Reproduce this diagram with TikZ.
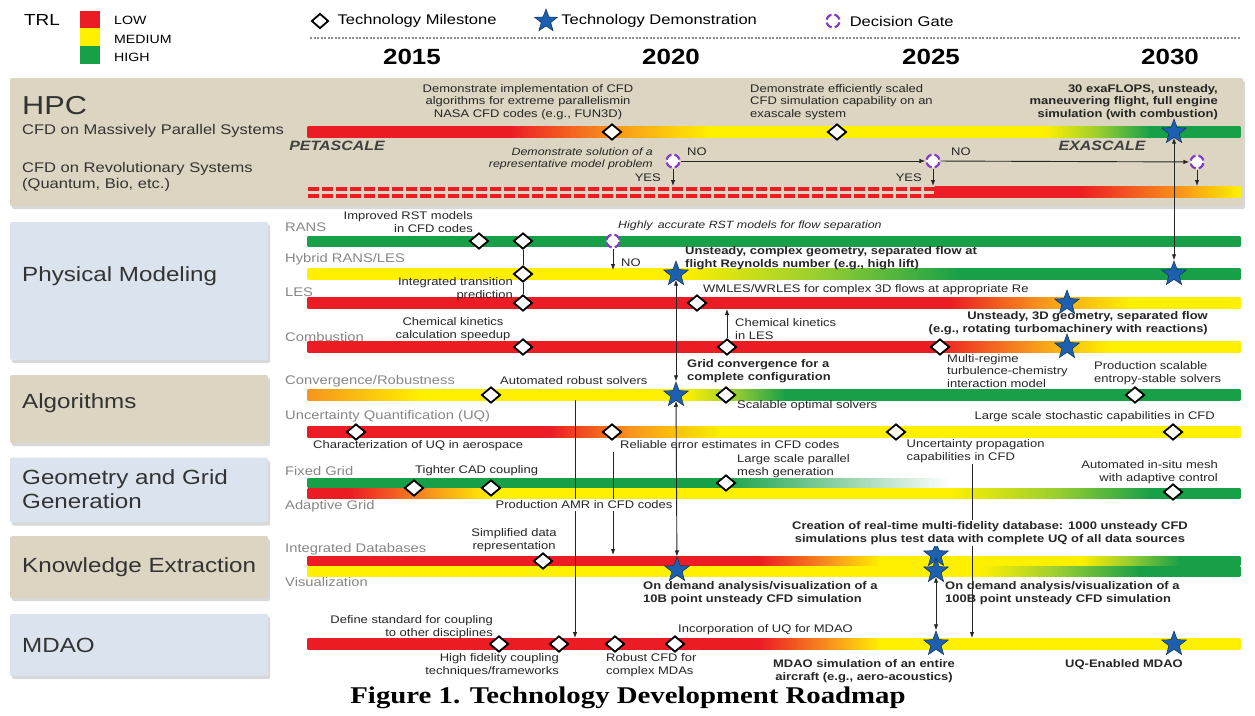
\documentclass[tikz,border=0pt]{standalone}
\usepackage{fontspec}
\setmainfont{Liberation Sans}[FakeStretch=1.18]
\newfontfamily\capfont{Liberation Serif}[FakeStretch=1.2]
\usetikzlibrary{positioning,shapes.geometric,arrows.meta,shadows}

\definecolor{trlred}{RGB}{236,28,36}
\definecolor{trlorange}{RGB}{247,148,29}
\definecolor{trlyellow}{RGB}{255,240,0}
\definecolor{trllime}{RGB}{150,205,50}
\definecolor{trlgreen}{RGB}{24,160,72}
\definecolor{paneltan}{RGB}{219,213,193}
\definecolor{panelblue}{RGB}{219,227,238}
\definecolor{demoblue}{RGB}{30,96,176}
\definecolor{gatepurple}{RGB}{130,60,200}
\definecolor{rowgray}{RGB}{135,135,135}

% a TRL bar: centre y, half thickness, then x0/x1/colour0/colour1 pieces
\newcommand{\trlbar}[3]{%
  \foreach \xa/\xb/\ca/\cb in {#3}{%
    \shade[left color=\ca, right color=\cb] (\xa-0.4,#1-#2) rectangle (\xb+0.4,#1+#2);}}

\begin{document}
\begin{tikzpicture}[x=1pt, y=-1pt,
  milestone/.style={diamond, draw=black, fill=white, line width=1.8pt, minimum width=19pt, minimum height=16pt, inner sep=0pt},
  demo/.style={star, star points=5, star point ratio=2.4, fill=demoblue, draw=demoblue!50!black, line width=0.5pt, minimum size=26pt, inner sep=0pt},
  gate/.style={circle, fill=white, draw=gatepurple, line width=2.2pt, minimum size=13pt, inner sep=0pt, dash pattern=on 7.2pt off 3pt, dash phase=8.7pt},
  note/.style={font=\fontsize{11}{12.5}\selectfont, inner sep=0pt, text=black!85},
  bnote/.style={note, font=\fontsize{11}{12.5}\selectfont\bfseries},
  inote/.style={note, font=\fontsize{10.5}{12}\selectfont\itshape},
  rowlbl/.style={font=\fontsize{12.5}{14}\selectfont, text=rowgray, anchor=west, inner sep=0pt},
  catbox/.style={rounded corners=2pt, minimum width=258pt, drop shadow={shadow xshift=2pt, shadow yshift=-3pt, fill=black!30}},
  cattext/.style={font=\fontsize{20.5}{24}\selectfont, anchor=west, align=left, inner sep=0pt, text=black!80},
  keytxt/.style={font=\fontsize{14}{16}\selectfont, inner sep=0pt, anchor=west},
  year/.style={font=\fontsize{22}{24}\selectfont\bfseries, inner sep=0pt},
  link/.style={-{Latex[length=6pt,width=4.5pt]}, line width=0.9pt, draw=black!85},
  twoway/.style={{Latex[length=6pt,width=4.5pt]}-{Latex[length=6pt,width=4.5pt]}, line width=0.9pt, draw=black!85},
  knock/.style={fill=white, inner sep=1.5pt}]

\useasboundingbox[fill=white] (0,0) rectangle (1255,715);

% legend and time axis
\node[font=\fontsize{16}{18}\selectfont, inner sep=0pt] (trl) at (42,20) {TRL};
\fill[trlred] (80,11) rectangle (100,28);
\fill[trlyellow] (80,28) rectangle (100,46);
\fill[trlgreen] (80,46) rectangle (100,64);
\node[keytxt, font=\fontsize{12}{14}\selectfont] (low) at (114,20) {LOW};
\node[keytxt, font=\fontsize{12}{14}\selectfont] (medium) at (114,39) {MEDIUM};
\node[keytxt, font=\fontsize{12}{14}\selectfont] (high) at (114,57) {HIGH};
\node[milestone, minimum width=17pt, minimum height=15pt] (keym) at (320,21) {};
\node[keytxt, right=8pt of keym] (keymtxt) {Technology Milestone};
\node[demo, minimum size=24pt] (keyd) at (546,21) {};
\node[keytxt, right=8pt of keyd] (keydtxt) {Technology Demonstration};
\node[gate] (keyg) at (833,21) {};
\node[keytxt, right=9pt of keyg] (keygtxt) {Decision Gate};
\draw[black!45, line width=1.3pt, dash pattern=on 2pt off 1.5pt] (310,38) -- (1240,38);
\foreach \yr/\xx in {2015/412, 2020/671, 2025/931, 2030/1170}
  \node[year] (y\yr) at (\xx,57) {\yr};

% HPC panel
\node[catbox, fill=paneltan, minimum width=1233pt, minimum height=128pt] (hpcpanel) at (626.5,142) {};
\node[font=\fontsize{26}{30}\selectfont, anchor=west, inner sep=0pt, text=black!80] (hpc) at (22,106) {HPC};
\node[cattext, font=\fontsize{14}{16}\selectfont] (mps) at (22,131) {CFD on Massively Parallel Systems};
\node[cattext, font=\fontsize{14}{16}\selectfont] (rev) at (22,177) {CFD on Revolutionary Systems\\(Quantum, Bio, etc.)};

% category boxes
\node[catbox, fill=panelblue, minimum height=138pt] (pmbox) at (139,291) {};
\node[cattext] (pmtxt) at (22,276) {Physical Modeling};
\node[catbox, fill=paneltan, minimum height=68pt] (albox) at (139,409) {};
\node[cattext] (altxt) at (22,403) {Algorithms};
\node[catbox, fill=panelblue, minimum height=65pt] (ggbox) at (139,490) {};
\node[cattext] (ggtxt) at (22,489) {Geometry and Grid\\Generation};
\node[catbox, fill=paneltan, minimum height=62pt] (kebox) at (139,567) {};
\node[cattext] (ketxt) at (22,567) {Knowledge Extraction};
\node[catbox, fill=panelblue, minimum height=62pt] (mdbox) at (139,645) {};
\node[cattext] (mdtxt) at (22,645) {MDAO};

% row names
\node[rowlbl] (rans) at (285,227) {RANS};
\node[rowlbl] (hyb) at (285,259) {Hybrid RANS/LES};
\node[rowlbl] (les) at (285,292) {LES};
\node[rowlbl] (comb) at (285,337) {Combustion};
\node[rowlbl] (conv) at (285,381) {Convergence/Robustness};
\node[rowlbl] (uq) at (285,416) {Uncertainty Quantification (UQ)};
\node[rowlbl] (fixg) at (285,471) {Fixed Grid};
\node[rowlbl] (adag) at (285,506) {Adaptive Grid};
\node[rowlbl] (idb) at (285,549) {Integrated Databases};
\node[rowlbl] (vis) at (285,582) {Visualization};

% bars
\trlbar{132}{5.5}{308/510/trlred/trlred, 510/612/trlred/trlorange, 612/710/trlorange/trlyellow, 710/1045/trlyellow/trlyellow, 1045/1100/trlyellow/trllime, 1100/1150/trllime/trlgreen, 1150/1240/trlgreen/trlgreen}
\draw[trlred, line width=4pt, dash pattern=on 11pt off 3pt] (308,188.5) -- (935,188.5);
\draw[trlred, line width=4pt, dash pattern=on 11pt off 3pt] (308,195.5) -- (935,195.5);
\trlbar{192}{5.5}{935/1080/trlred/trlred, 1080/1180/trlred/trlorange, 1180/1240/trlorange/trlyellow}
\trlbar{241}{5}{308/1240/trlgreen/trlgreen}
\trlbar{274}{5.5}{308/680/trlyellow/trlyellow, 680/820/trlyellow/trllime, 820/960/trllime/trlgreen, 960/1240/trlgreen/trlgreen}
\trlbar{303}{5.5}{308/950/trlred/trlred, 950/1040/trlred/trlorange, 1040/1130/trlorange/trlyellow, 1130/1240/trlyellow/trlyellow}
\trlbar{347}{5.5}{308/935/trlred/trlred, 935/1030/trlred/trlorange, 1030/1110/trlorange/trlyellow, 1110/1240/trlyellow/trlyellow}
\trlbar{395}{5.5}{308/420/trlorange/trlyellow, 420/685/trlyellow/trlyellow, 685/735/trlyellow/trllime, 735/785/trllime/trlgreen, 785/1240/trlgreen/trlgreen}
\trlbar{432}{5.5}{308/550/trlred/trlred, 550/630/trlred/trlorange, 630/720/trlorange/trlyellow, 720/1240/trlyellow/trlyellow}
\trlbar{493}{5}{308/350/trlred/trlred, 350/430/trlred/trlorange, 430/490/trlorange/trlyellow, 490/950/trlyellow/trlyellow, 950/1060/trlyellow/trllime, 1060/1150/trllime/trlgreen, 1150/1240/trlgreen/trlgreen}
\trlbar{483}{4.5}{308/720/trlgreen/trlgreen, 720/950/trlgreen/white}
\trlbar{571}{5}{308/980/trlyellow/trlyellow, 980/1060/trlyellow/trllime, 1060/1140/trllime/trlgreen, 1140/1240/trlgreen/trlgreen}
\trlbar{561}{4.5}{308/760/trlred/trlred, 760/830/trlred/trlorange, 830/880/trlorange/trlyellow, 880/1080/trlyellow/trlyellow, 1080/1130/trlyellow/trllime, 1130/1180/trllime/trlgreen, 1180/1240/trlgreen/trlgreen}
\trlbar{644}{5.5}{308/760/trlred/trlred, 760/830/trlred/trlorange, 830/880/trlorange/trlyellow, 880/1240/trlyellow/trlyellow}

% HPC markers
\node[milestone] (m1) at (612,132) {};
\node[milestone] (m2) at (837,132) {};
\node[demo] (d1) at (1174,132) {};
\node[gate] (g1) at (673,161) {};
\node[gate] (g2) at (933,161) {};
\node[gate] (g3) at (1197,162) {};
\coordinate (g1down) at (673,186);
\coordinate (g2down) at (933,186);
\coordinate (g3down) at (1197,186);

% physical modeling markers
\node[milestone] (r1) at (479,241) {};
\node[milestone] (r2) at (523,241) {};
\node[gate] (rg) at (613,241) {};
\node[milestone] (h1) at (523,274) {};
\node[demo] (hs) at (676,274) {};
\node[demo] (h2) at (1174,274) {};
\node[milestone] (l1) at (523,303) {};
\node[milestone] (l2) at (697,303) {};
\node[demo] (ls) at (1067,303) {};
\node[milestone] (c1) at (523,347) {};
\node[milestone] (c2) at (727,347) {};
\node[milestone] (c3) at (940,347) {};
\node[demo] (cs) at (1067,347) {};
\coordinate (rgdown) at (613,270);
\coordinate (lesin) at (727,309);

% algorithms markers
\node[milestone] (a1) at (491,395) {};
\node[demo] (gs) at (676,395) {};
\node[milestone] (a2) at (726,395) {};
\node[milestone] (a3) at (1135,395) {};
\node[milestone] (u1) at (356,432) {};
\node[milestone] (u2) at (612,432) {};
\node[milestone] (u3) at (896,432) {};
\node[milestone] (u4) at (1173,432) {};

% geometry markers
\node[milestone] (q1) at (414,488) {};
\node[milestone] (q2) at (491,488) {};
\node[milestone] (q3) at (726,483) {};
\node[milestone] (q4) at (1173,492) {};

% knowledge markers
\node[milestone] (k1) at (543,561) {};
\node[demo] (ks1) at (677,570) {};
\node[demo] (ks2) at (936,555) {};
\node[demo] (ks3) at (936,571) {};

% MDAO markers
\node[milestone] (o1) at (499,644) {};
\node[milestone] (o2) at (559,644) {};
\node[milestone] (o3) at (615,644) {};
\node[milestone] (o4) at (675,644) {};
\node[demo] (ms1) at (936,644) {};
\node[demo] (ms2) at (1174,644) {};

% free ends of the long links
\coordinate (convout) at (575,400);
\coordinate (mdaoin1) at (575,638);
\coordinate (errout) at (613,452);
\coordinate (idbin) at (613,555);
\coordinate (uqout) at (972,438);
\coordinate (mdaoin2) at (972,638);

% links
\draw[link] (g1) -- (g2);
\draw[link] (g2) -- (g3);
\draw[link] (g1) -- (g1down);
\draw[link] (g2) -- (g2down);
\draw[link] (g3) -- (g3down);
\draw[twoway] (d1) -- (h2);
\draw[link] (rg) -- (rgdown);
\draw[line width=0.9pt, black!85] (r2) -- (h1) -- (l1);
\draw[link] (c2) -- (lesin);
\draw[twoway] (hs) -- (gs);
\draw[twoway] (gs) -- (ks1);
\draw[link] (convout) -- (mdaoin1);
\draw[link] (errout) -- (idbin);
\draw[link] (uqout) -- (mdaoin2);
\draw[twoway] (ks3) -- (ms1);

% HPC texts
\node[note, align=center] (m1txt) at (528,102) {Demonstrate implementation of CFD\\algorithms for extreme parallelismin\\NASA CFD codes (e.g., FUN3D)};
\node[note, align=left, anchor=west] (m2txt) at (750,102) {Demonstrate efficiently scaled\\CFD simulation capability on an\\exascale system};
\node[bnote, align=right, anchor=east] (d1txt) at (1218,102) {30 exaFLOPS, unsteady,\\maneuvering flight, full engine\\simulation (with combustion)};
\node[font=\fontsize{13.5}{16}\selectfont\bfseries\itshape, text=black!75, inner sep=0pt] (peta) at (337,146) {PETASCALE};
\node[font=\fontsize{13.5}{16}\selectfont\bfseries\itshape, text=black!75, inner sep=0pt] (exa) at (1102,146) {EXASCALE};
\node[inote, align=right, anchor=east] (g1txt) at (653,159) {Demonstrate solution of a\\representative model problem};
\node[note, anchor=west] (no1) at (687,152) {NO};
\node[note, anchor=east] (yes1) at (661,178) {YES};
\node[note, anchor=west] (no2) at (951,152) {NO};
\node[note, anchor=east] (yes2) at (922,178) {YES};

% physical modeling texts
\node[note, align=right, anchor=east] (r1txt) at (473,222) {Improved RST models\\in CFD codes};
\node[inote, anchor=west] (rgtxt) at (618,226) {Highly\, accurate RST models for flow separation};
\node[note, anchor=west] (no3) at (621,263) {NO};
\node[bnote, align=left, anchor=west] (hstxt) at (685,258) {Unsteady, complex geometry, separated flow at\\flight Reynolds number (e.g., high lift)};
\node[note, align=right, anchor=east] (l1txt) at (513,289) {Integrated transition\\prediction};
\node[note, anchor=west] (l2txt) at (703,290) {WMLES/WRLES for complex 3D flows at appropriate Re};
\node[note, align=center] (c1txt) at (453,329) {Chemical kinetics\\calculation speedup};
\node[note, align=left, anchor=west] (c2txt) at (735,329) {Chemical kinetics\\in LES};
\node[bnote, align=right, anchor=east] (cstxt) at (1208,323) {Unsteady, 3D geometry, separated flow\\(e.g., rotating turbomachinery with reactions)};
\node[note, align=left, anchor=west] (c3txt) at (947,371) {Multi-regime\\turbulence-chemistry\\interaction model};

% algorithms texts
\node[note, anchor=west] (a1txt) at (500,381) {Automated robust solvers};
\node[bnote, align=left, anchor=west] (gstxt) at (687,371) {Grid convergence for a\\complete configuration};
\node[note, anchor=west] (a2txt) at (737,406) {Scalable optimal solvers};
\node[note, align=left, anchor=west] (a3txt) at (1094,373) {Production scalable\\entropy-stable solvers};
\node[note, anchor=west] (u1txt) at (313,446) {Characterization of UQ in aerospace};
\node[note, anchor=west] (u2txt) at (620,445) {Reliable error estimates in CFD codes};
\node[note, knock, align=left, anchor=west] (u3txt) at (905,451) {Uncertainty propagation\\capabilities in CFD};
\node[note, anchor=east] (u4txt) at (1215,417) {Large scale stochastic capabilities in CFD};

% geometry texts
\node[note, anchor=west] (q1txt) at (415,471) {Tighter CAD coupling};
\node[note, align=left, anchor=west] (q3txt) at (737,466) {Large scale parallel\\mesh generation};
\node[note, align=right, anchor=east] (q4txt) at (1218,472) {Automated in-situ mesh\\with adaptive control};
\node[note, knock, anchor=west] (q2txt) at (494,505) {Production AMR in CFD codes};

% knowledge texts
\node[note, align=center] (k1txt) at (514,540) {Simplified data\\representation};
\node[bnote, knock, align=center] (kstxt) at (990,533) {Creation of real-time multi-fidelity database: 1000 unsteady CFD\\simulations plus test data with complete UQ of all data sources};
\node[bnote, align=left, anchor=west] (ks1txt) at (643,593) {On demand analysis/visualization of a\\10B point unsteady CFD simulation};
\node[bnote, align=left, anchor=west] (ks3txt) at (945,593) {On demand analysis/visualization of a\\100B point unsteady CFD simulation};

% MDAO texts
\node[note, align=right, anchor=east] (o1txt) at (493,627) {Define standard for coupling\\to other disciplines};
\node[note, align=right, anchor=east] (o2txt) at (559,665) {High fidelity coupling\\techniques/frameworks};
\node[note, align=left, anchor=west] (o3txt) at (606,665) {Robust CFD for\\complex MDAs};
\node[note, anchor=west] (o4txt) at (678,630) {Incorporation of UQ for MDAO};
\node[bnote, align=center] (ms1txt) at (864,671) {MDAO simulation of an entire\\aircraft (e.g., aero-acoustics)};
\node[bnote] (ms2txt) at (1124,665) {UQ-Enabled MDAO};

% caption
\node[font=\capfont\bfseries\fontsize{24}{26}\selectfont, inner sep=0pt] (caption) at (628,698) {Figure 1. Technology Development Roadmap};
\end{tikzpicture}
\end{document}
